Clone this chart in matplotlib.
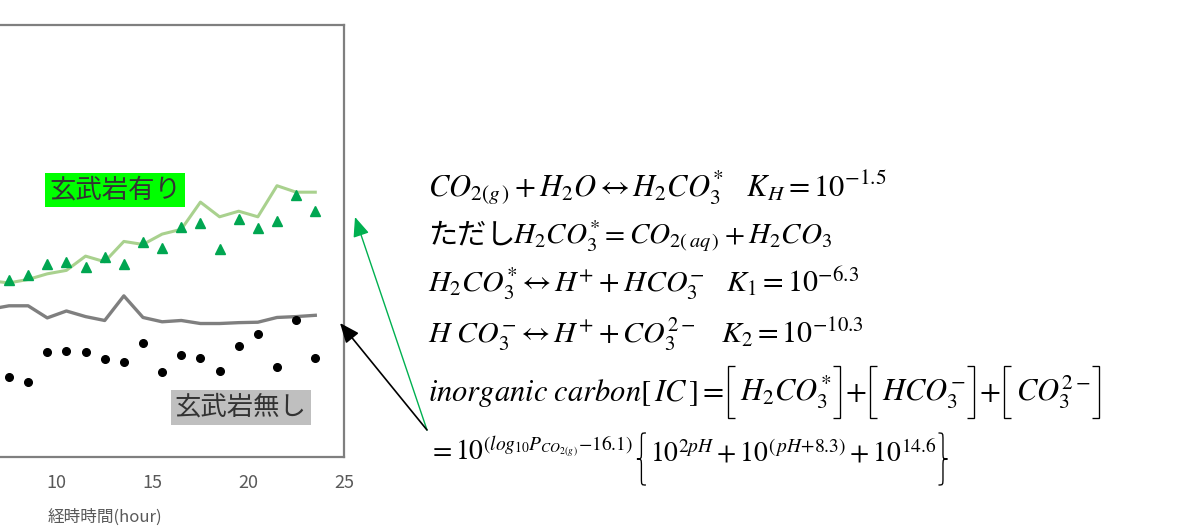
import matplotlib
matplotlib.use("Agg")
import matplotlib.pyplot as plt
from matplotlib.patches import FancyArrowPatch, PathPatch
from matplotlib.path import Path

plt.rcParams['font.family'] = ['Noto Sans CJK JP', 'DejaVu Sans']
plt.rcParams['mathtext.fontset'] = 'stix'

# hours (only the right part of the original chart is visible)
hours_line = [6.5, 7.5, 8.5, 9.5, 10.5, 11.5, 12.5, 13.5, 14.5, 15.5, 16.5,
              17.5, 18.5, 19.5, 20.5, 21.5, 22.5, 23.5]
hours_pts = hours_line[1:]

# with basalt (green)
basalt_line = [4.08, 4.03, 4.11, 4.24, 4.32, 4.65, 4.52, 4.99, 4.92, 5.16, 5.27,
               5.90, 5.56, 5.69, 5.56, 6.28, 6.13, 6.13]
basalt_pts = [4.10, 4.21, 4.46, 4.51, 4.39, 4.62, 4.47, 4.97, 4.83, 5.33, 5.41,
              4.81, 5.51, 5.29, 5.47, 6.06, 5.69]

# without basalt (gray / black)
none_line = [3.42, 3.50, 3.50, 3.22, 3.38, 3.25, 3.16, 3.73, 3.23, 3.13, 3.16,
             3.09, 3.09, 3.11, 3.12, 3.23, 3.25, 3.28]
none_pts = [1.86, 1.73, 2.44, 2.45, 2.43, 2.28, 2.21, 2.65, 1.96, 2.35, 2.30,
            2.00, 2.57, 2.84, 2.08, 3.17, 2.30]

xticks = [10, 15, 20, 25]

eq1 = r'$CO_{2(g\,)}+H_2O \leftrightarrow H_2CO_3^{*}\quad K_H=10^{-1.5}$'
eq2 = r'$H_2CO_3^{*}{=}CO_{2(\,aq\,)}+H_2CO_3$'
eq3 = r'$H_2CO_3^{*}\leftrightarrow H^{+}+HCO_3^{-}\quad K_1=10^{-6.3}$'
eq4 = r'$H\ CO_3^{-}\leftrightarrow H^{+}+CO_3^{2-}\quad K_2=10^{-10.3}$'
eq5 = [r'$inorganic\ carbon[\,IC\,]=$', '[', r'$H_2CO_3^{*}$', ']', r'$+$',
       '[', r'$HCO_3^{-}$', ']', r'$+$', '[', r'$CO_3^{2-}$', ']']
eq6 = [r'$=10^{(log_{10}P_{CO_{2(g\,)}}{-}16.1)}$', '{',
       r'$10^{2pH}+10^{(\,pH{+}8.3)}+10^{14.6}$', '}']

W, H = 1177, 527
fig = plt.figure(figsize=(W / 100, H / 100), dpi=100)
ax = fig.add_axes([-134.6 / W, 70 / H, 478.6 / W, 432 / H])

ax.plot(hours_line, basalt_line, color='#a9d18e', lw=2.2, zorder=2)
ax.plot(hours_line, none_line, color='#7f7f7f', lw=2.4, zorder=2)
ax.plot(hours_pts, basalt_pts, '^', color='#00a651', ms=6.5, zorder=3)
ax.plot(hours_pts, none_pts, 'o', color='black', ms=5.5, zorder=3)

ax.set_xlim(0, 25)
ax.set_ylim(0, 10)
ax.set_xticks(xticks)
ax.set_yticks([])
ax.tick_params(axis='x', length=0, labelsize=13, labelcolor='#595959', pad=12)
for s in ax.spines.values():
    s.set_color('#7f7f7f')
    s.set_linewidth(1.6)
ax.set_xlabel('経時時間(hour)', fontsize=12, color='#595959', labelpad=12)

ax.text(13.05, 6.18, '玄武岩有り', fontsize=19, color='#333333', ha='center', va='center',
        bbox=dict(boxstyle='square,pad=0.15', fc='#00ff00', ec='none'))
ax.text(19.6, 1.15, '玄武岩無し', fontsize=19, color='#333333', ha='center', va='center',
        bbox=dict(boxstyle='square,pad=0.15', fc='#bfbfbf', ec='none'))


def put(x, yb, s, fs=22, **kw):
    return fig.text(x / W, 1 - yb / H, s, fontsize=fs, va='baseline', ha='left', **kw)


def pix_path(verts, codes):
    # pixel coords (from top-left) -> figure fraction
    v = [(px / W, 1 - py / H) for px, py in verts]
    fig.patches.append(PathPatch(Path(v, codes), transform=fig.transFigure,
                                 fc='none', ec='black', lw=0.95))


def bracket(x, top, bot, left):
    w = 7
    if left:
        verts = [(x + w, top), (x, top), (x, bot), (x + w, bot)]
    else:
        verts = [(x, top), (x + w, top), (x + w, bot), (x, bot)]
    pix_path(verts, [Path.MOVETO, Path.LINETO, Path.LINETO, Path.LINETO])


def brace(x, top, bot, left):
    w = 9
    h = bot - top
    mid = (top + bot) / 2
    a, c = (x + w, x) if left else (x, x + w)
    m = x + w / 2
    verts = [(a, top), (m, top), (m, top), (m, top + 0.14 * h),
             (m, mid - 0.14 * h), (m, mid), (m, mid), (c, mid),
             (m, mid), (m, mid), (m, mid + 0.14 * h),
             (m, bot - 0.14 * h), (m, bot), (m, bot), (a, bot)]
    codes = [Path.MOVETO, Path.CURVE4, Path.CURVE4, Path.CURVE4,
             Path.LINETO, Path.CURVE4, Path.CURVE4, Path.CURVE4,
             Path.CURVE4, Path.CURVE4, Path.CURVE4,
             Path.LINETO, Path.CURVE4, Path.CURVE4, Path.CURVE4]
    pix_path(verts, codes)


def row(x, yb, parts, fs, top, bot):
    # lay pieces left to right; brackets and braces drawn as thin paths
    r = fig.canvas.get_renderer()
    for p in parts:
        if p in '[]':
            bracket(x + (5 if p == '[' else 2), top, bot, p == '[')
            x += 17 if p == '[' else 14
        elif p in '{}':
            brace(x + (5 if p == '{' else 3), top, bot, p == '{')
            x += 18 if p == '{' else 14
        else:
            t = put(x, yb, p, fs)
            x = t.get_window_extent(r).x1 - 1


put(428, 196, eq1)
put(428, 244, 'ただし', 21)
put(513, 244, eq2, 21)
put(428, 292, eq3, 21.5)
put(428, 343, eq4, 21.5)
row(428, 401, eq5, 22, 366, 418)
row(428, 461, eq6, 20, 433, 485)

# arrows
fig.patches.append(FancyArrowPatch(
    (427 / W, 1 - 430 / H), (355 / W, 1 - 217 / H), transform=fig.transFigure,
    arrowstyle='-|>,head_length=12,head_width=5', color='#00b050', lw=1.0,
    shrinkA=0, shrinkB=0))
fig.patches.append(FancyArrowPatch(
    (427 / W, 1 - 430 / H), (340 / W, 1 - 323 / H), transform=fig.transFigure,
    arrowstyle='-|>,head_length=12,head_width=5', color='black', lw=1.2,
    shrinkA=0, shrinkB=0))

fig.savefig('out.png', dpi=100)
